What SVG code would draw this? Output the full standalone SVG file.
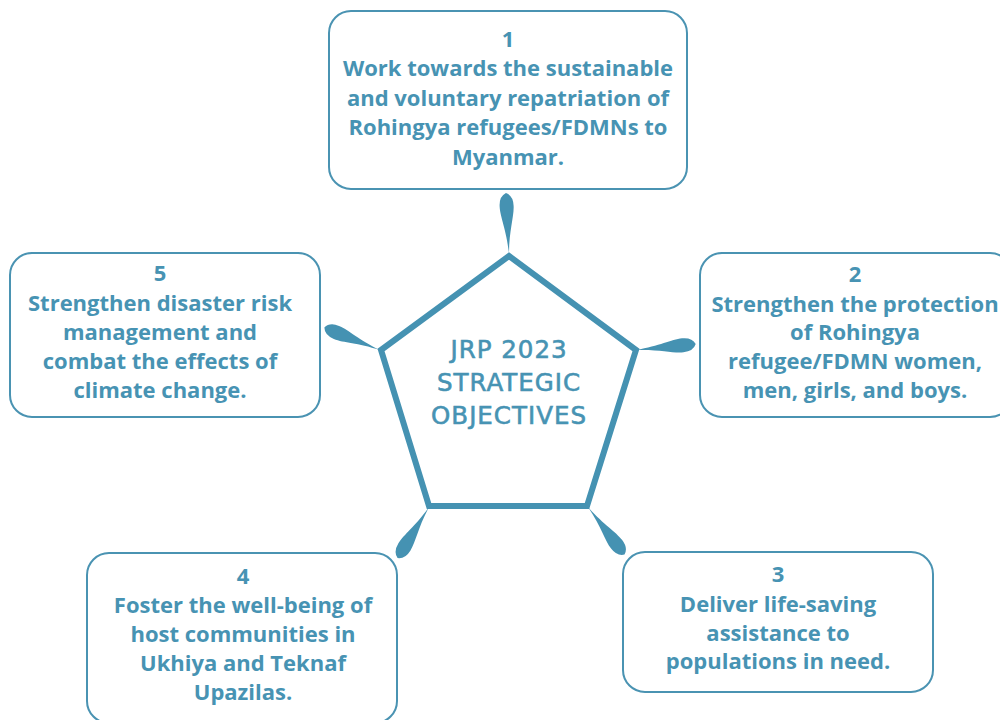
<svg xmlns="http://www.w3.org/2000/svg" width="1000" height="720" viewBox="0 0 1000 720">
<style>
  .box { fill: #ffffff; stroke: #4a93b2; stroke-width: 2; }
  .t { font-family: "Open Sans", Lato, "Liberation Sans", sans-serif; font-weight: 700; font-size: 22px; fill: #4793b3; text-anchor: middle; }
  .c { font-family: "DejaVu Sans", "Open Sans", sans-serif; font-weight: 400; font-size: 24.5px; letter-spacing: 1px; fill: #4793b3; stroke: #4793b3; stroke-width: 0.6px; text-anchor: middle; }
  .leaf { fill: #4592b2; }
</style>
<defs>
  <path id="leaf" d="M0,0 C24,-1.5 36,-7 47,-7 Q57,-7 60,0 Q57,7 47,7 C36,7 24,1.5 0,0 Z"/>
</defs>
<rect width="1000" height="720" fill="#ffffff"/>
<g id="connectors">
  <use href="#leaf" class="leaf" transform="translate(509,253) rotate(-92.9)"/>
  <use href="#leaf" class="leaf" transform="translate(636,350) rotate(-5.7)"/>
  <use href="#leaf" class="leaf" transform="translate(380,350) rotate(-158)"/>
  <use href="#leaf" class="leaf" transform="translate(429,507) rotate(121.6)"/>
  <use href="#leaf" class="leaf" transform="translate(588,507) rotate(52.5)"/>
</g>
<g id="center">
  <polygon points="509,256 636,350 587,506 429,506 381,350" fill="#ffffff" stroke="#4592b2" stroke-width="6" stroke-linejoin="miter"/>
  <text class="c" x="509" y="358">JRP 2023</text>
  <text class="c" x="509" y="391">STRATEGIC</text>
  <text class="c" x="509" y="424">OBJECTIVES</text>
</g>
<g id="obj1">
  <rect class="box" x="329" y="11" width="358" height="178" rx="22"/>
  <text class="t" x="508" y="47">1</text>
  <text class="t" x="508" y="76">Work towards the sustainable</text>
  <text class="t" x="508" y="106">and voluntary repatriation of</text>
  <text class="t" x="508" y="135">Rohingya refugees/FDMNs to</text>
  <text class="t" x="508" y="165">Myanmar.</text>
</g>
<g id="obj2">
  <rect class="box" x="700" y="253" width="312" height="164" rx="22"/>
  <text class="t" x="855" y="282">2</text>
  <text class="t" x="855" y="312">Strengthen the protection</text>
  <text class="t" x="855" y="340">of Rohingya</text>
  <text class="t" x="855" y="369">refugee/FDMN women,</text>
  <text class="t" x="855" y="398">men, girls, and boys.</text>
</g>
<g id="obj3">
  <rect class="box" x="623" y="552" width="310" height="140" rx="22"/>
  <text class="t" x="778" y="582">3</text>
  <text class="t" x="778" y="612">Deliver life-saving</text>
  <text class="t" x="778" y="641">assistance to</text>
  <text class="t" x="778" y="669">populations in need.</text>
</g>
<g id="obj4">
  <rect class="box" x="87" y="553" width="310" height="170" rx="22"/>
  <text class="t" x="243" y="584">4</text>
  <text class="t" x="243" y="613">Foster the well-being of</text>
  <text class="t" x="243" y="642">host communities in</text>
  <text class="t" x="243" y="671">Ukhiya and Teknaf</text>
  <text class="t" x="243" y="700">Upazilas.</text>
</g>
<g id="obj5">
  <rect class="box" x="10" y="253" width="310" height="164" rx="22"/>
  <text class="t" x="160" y="281">5</text>
  <text class="t" x="160" y="311">Strengthen disaster risk</text>
  <text class="t" x="160" y="340">management and</text>
  <text class="t" x="160" y="369">combat the effects of</text>
  <text class="t" x="160" y="398">climate change.</text>
</g>
</svg>
